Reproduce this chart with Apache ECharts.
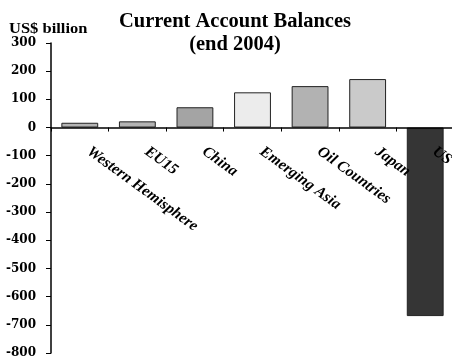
<!DOCTYPE html>
<html>
<head>
<meta charset="utf-8">
<script src="https://cdn.jsdelivr.net/npm/echarts@6/dist/echarts.min.js"></script>
<style>
  html, body { margin: 0; padding: 0; background: #ffffff; }
  #chart { width: 452px; height: 358px; }
</style>
</head>
<body>
<div id="chart"></div>
<script>
// Current account balances by region, end 2004 (US$ billion)
const regions = ['Western Hemisphere', 'EU15', 'China', 'Emerging Asia', 'Oil Countries', 'Japan', 'US'];
const balances = [17, 22, 72, 125, 147, 172, -669];
const barColors = ['#b4b4b4', '#b4b4b4', '#a4a4a4', '#ececec', '#b2b2b2', '#cacaca', '#353535'];
const yTicks = [300, 200, 100, 0, -100, -200, -300, -400, -500, -600, -700, -800];

const yMin = -800;
const yMax = 300;

const serif = '"Liberation Serif", "Times New Roman", serif';

const W = 452, H = 358;
const grid = { left: 51, right: -2, top: 43, bottom: 5 };
// The category axis sits on the zero line: shift it up from the bottom edge by
// the share of the plot height that lies below zero.
const plotHeight = H - grid.top - grid.bottom;
const zeroOffset = -plotHeight * (0 - yMin) / (yMax - yMin);

const chart = echarts.init(document.getElementById('chart'), null, { renderer: 'canvas' });

chart.setOption({
  animation: false,
  backgroundColor: '#ffffff',
  title: {
    text: 'Current Account Balances\n(end 2004)',
    left: 230,
    top: 5,
    textAlign: 'center',
    textStyle: {
      fontFamily: serif,
      fontWeight: 'bold',
      fontSize: 20.5,
      lineHeight: 23,
      color: '#000000'
    }
  },
  graphic: [{
    type: 'text',
    left: 9,
    top: 22,
    style: {
      text: 'US$ billion',
      font: 'bold 15px ' + serif,
      fill: '#000000'
    },
    scaleX: 1.1
  }],
  grid: Object.assign({ containLabel: false, outerBoundsMode: 'none' }, grid),
  xAxis: {
    type: 'category',
    data: regions,
    offset: zeroOffset,
    axisLine: { onZero: false, lineStyle: { color: '#000000', width: 1.5 } },
    axisTick: { show: true, length: 4, lineStyle: { color: '#000000' } },
    axisLabel: {
      interval: 0,
      rotate: -36,
      margin: 16,
      padding: [0, 0, 0, 11],
      fontFamily: serif,
      fontWeight: 'bold',
      fontStyle: 'italic',
      fontSize: 15.5,
      color: '#000000'
    },
    z: 3
  },
  yAxis: {
    type: 'value',
    min: yMin,
    max: yMax,
    interval: 100,
    axisLine: { show: true, lineStyle: { color: '#000000', width: 1.5 } },
    axisTick: { show: true, length: 5, lineStyle: { color: '#000000' } },
    splitLine: { show: false },
    axisLabel: {
      margin: 15,
      fontFamily: '"DejaVu Serif", serif',
      fontWeight: 'bold',
      fontSize: 12,
      color: '#000000',
      formatter: v => (yTicks.includes(v) ? String(v) : '')
    }
  },
  series: [{
    type: 'bar',
    barWidth: '64%',
    data: balances.map((v, i) => ({
      value: v,
      itemStyle: { color: barColors[i], borderColor: '#222222', borderWidth: 1 }
    })),
    z: 2
  }]
});
</script>
</body>
</html>
